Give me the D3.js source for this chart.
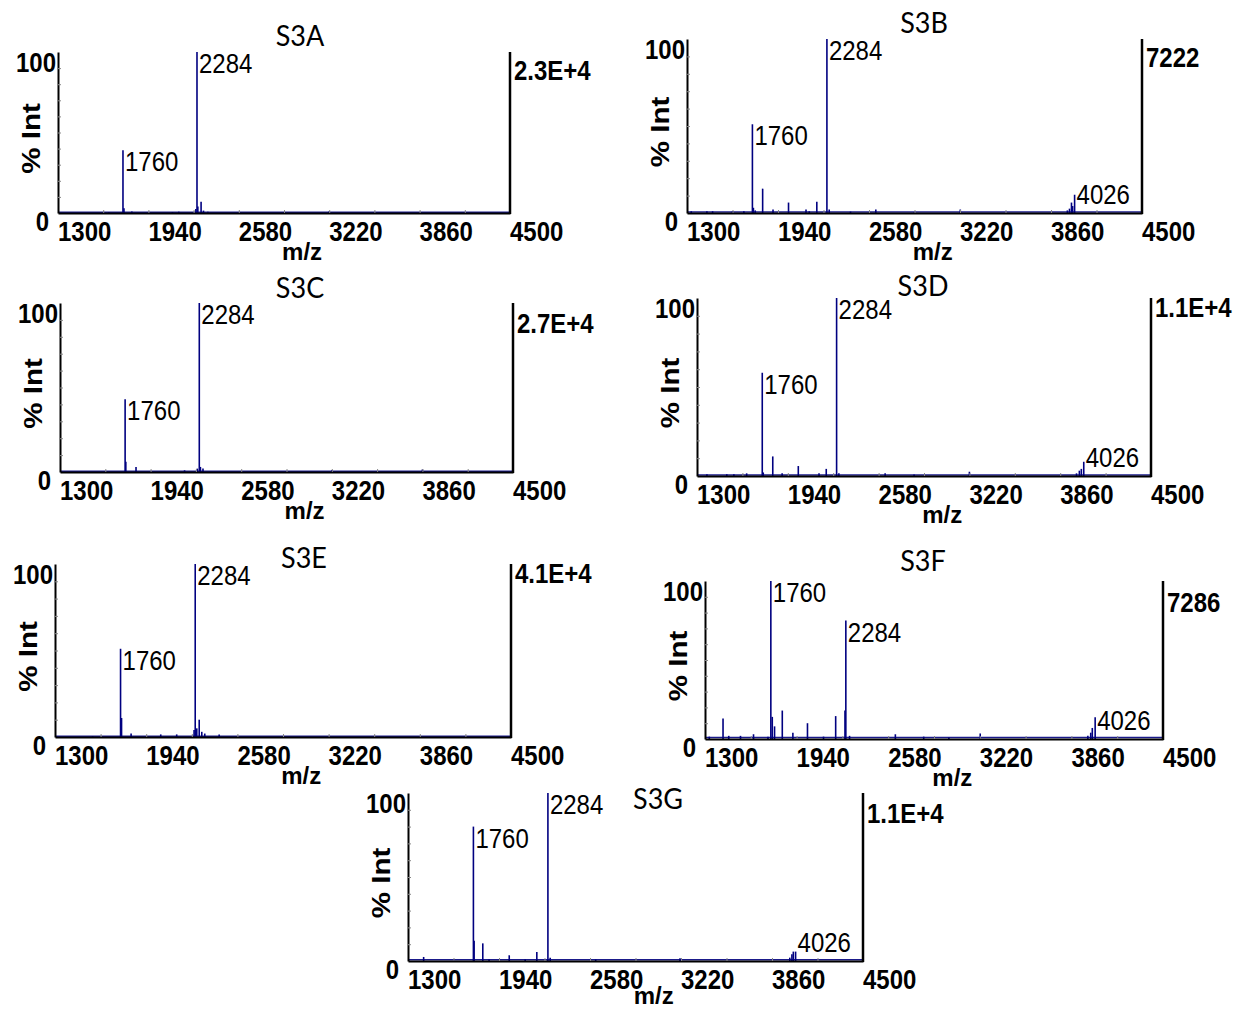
<!DOCTYPE html>
<html>
<head>
<meta charset="utf-8">
<script src="https://cdn.jsdelivr.net/npm/d3@7"></script>
<style>
  body { margin: 0; background: #fff; }
  svg text { font-family: "Liberation Sans", Arial, sans-serif; fill: #000; }
  .tick-label, .axis-label, .scale-label, .y-end { font-weight: bold; font-size: 24px; }
  .peak-label { font-size: 24px; }
  .title { font-family: Lato, "Open Sans", sans-serif; font-size: 27px; }
  .axis path, .axis line { stroke: #000; }
  .axis path { stroke-width: 2px; }
  .axis line { stroke: #888; stroke-width: 1px; }
  .stick { stroke: #000080; stroke-width: 1.6px; }
  .noise { stroke: #1a1a8a; stroke-width: 1.5px; }
  .right-axis { stroke: #000; stroke-width: 2.5px; }
</style>
</head>
<body>
<div class="chart-container"></div>
<script>
var width = 1233;
var height = 1011;
var stretch = 1.18; // the original lettering is taller than it is wide

var panelNames = ['S3A', 'S3B', 'S3C', 'S3D', 'S3E', 'S3F', 'S3G'];
var scaleLabels = ['2.3E+4', '7222', '2.7E+4', '1.1E+4', '4.1E+4', '7286', '1.1E+4'];
var xDomain = [1300, 4500];
var xTicks = [1300, 1940, 2580, 3220, 3860, 4500];
var yTicks = [0, 100];

// peaks: [m/z, % intensity]
var peaksA = [[1660, 0.5], [1760, 39], [1767, 3], [1823, 1], [2110, 0.6], [2155, 0.8], [2276, 2.5],
  [2284, 100], [2290, 4], [2313, 7], [2330, 1.5], [2361, 0.8], [3219, 1]];
var peaksB = [[1330, 1], [1440, 1], [1480, 1], [1620, 1], [1700, 1], [1760, 51], [1767, 3], [1780, 1.5],
  [1832, 14], [1905, 2], [2014, 6], [2137, 2], [2160, 1], [2213, 6.5], [2284, 100], [2300, 2],
  [2450, 0.8], [2628, 2], [2900, 0.6], [3222, 2], [3975, 1.5], [3990, 2.5], [4004, 6], [4012, 4], [4026, 10.5]];
var peaksC = [[1760, 43], [1765, 6], [1837, 3], [2180, 1], [2270, 2], [2284, 100], [2292, 3], [2310, 2],
  [3220, 1], [3860, 1.5]];
var peaksD = [[1370, 1], [1510, 1], [1560, 1], [1650, 1.5], [1760, 58], [1767, 2], [1834, 11], [1900, 1.5],
  [2014, 5.6], [2160, 1.5], [2211, 4], [2284, 100], [2300, 1.5], [2626, 1.5], [2830, 0.8], [3220, 2.4],
  [3975, 1.5], [3995, 3], [4009, 4], [4026, 8]];
var peaksE = [[1564, 0.5], [1760, 51], [1767, 11], [1834, 2], [2042, 1.5], [2154, 1.5], [2276, 4],
  [2284, 100], [2295, 5], [2312, 10], [2330, 3], [2351, 2], [2452, 1.5]];
var peaksF = [[1330, 1.5], [1426, 13], [1466, 2], [1548, 2], [1639, 3], [1740, 1.5], [1760, 100], [1770, 14],
  [1786, 8], [1840, 18], [1914, 4], [2016, 10], [2128, 1.5], [2213, 14.5], [2278, 18], [2284, 75], [2310, 2],
  [2630, 3], [2828, 1.5], [3004, 1], [3223, 3.5], [3975, 2], [3995, 4], [4006, 7], [4026, 13.7]];
var peaksG = [[1410, 2.4], [1624, 1], [1760, 80], [1765, 12], [1826, 10.5], [1870, 1], [2012, 3.4],
  [2124, 1], [2206, 5.4], [2284, 100], [2300, 2], [2620, 1], [3213, 1.6], [3985, 2], [4000, 4],
  [4010, 5.6], [4026, 5.6]];
var allPeaks = [peaksA, peaksB, peaksC, peaksD, peaksE, peaksF, peaksG];

var labelledPeaks = [[1760, 2284], [1760, 2284, 4026], [1760, 2284], [1760, 2284, 4026],
  [1760, 2284], [1760, 2284, 4026], [1760, 2284, 4026]];
var noiseLevels = [0.5, 0.6, 0.4, 0.6, 0.4, 0.9, 0.8];

// where each spectrum sits on the page
var layout = [
  {left: 58, right: 510, top: 52, base: 213, titleX: 300, titleY: 35, scaleDy: 18},
  {left: 687, right: 1142, top: 39, base: 213, titleX: 924, titleY: 22, scaleDy: 18},
  {left: 60, right: 513, top: 303, base: 472, titleX: 300, titleY: 287, scaleDy: 20},
  {left: 697, right: 1151, top: 298, base: 476, titleX: 923, titleY: 285, scaleDy: 9},
  {left: 55, right: 511, top: 564, base: 737, titleX: 304, titleY: 557, scaleDy: 9},
  {left: 705, right: 1163, top: 581, base: 739, titleX: 923, titleY: 560, scaleDy: 21},
  {left: 408, right: 863, top: 793, base: 961, titleX: 658, titleY: 798, scaleDy: 20}
];

var svg = d3.select('.chart-container').append('svg')
  .attr('width', width)
  .attr('height', height);

// put a text at (x, y) and stretch it vertically
function at(x, y) {
  return `translate(${x},${y}) scale(1,${stretch})`;
}

function drawPanel(i) {
  var box = layout[i];
  var peaks = allPeaks[i];
  var x = d3.scaleLinear().domain(xDomain).range([box.left, box.right]);
  var y = d3.scaleLinear().domain([0, 100]).range([box.base, box.top]);
  var g = svg.append('g').attr('class', 'panel');

  // noise floor + sticks
  g.append('line')
    .attr('class', 'noise')
    .attr('x1', x(xDomain[0])).attr('x2', x(xDomain[1]))
    .attr('y1', y(noiseLevels[i])).attr('y2', y(noiseLevels[i]));

  g.selectAll('.stick')
    .data(peaks)
    .enter().append('line')
    .attr('class', 'stick')
    .attr('x1', d => x(d[0])).attr('x2', d => x(d[0]))
    .attr('y1', y(0)).attr('y2', d => y(d[1]));

  // axes
  var xAxis = d3.axisBottom(x)
    .tickValues(d3.range(1300, 4501, 320))
    .tickSizeInner(-3).tickSizeOuter(0)
    .tickFormat('');
  g.append('g')
    .attr('class', 'axis')
    .attr('transform', `translate(0,${box.base})`)
    .call(xAxis);

  var yAxis = d3.axisRight(y)
    .tickValues(d3.range(10, 100, 10))
    .tickSizeInner(3).tickSizeOuter(0)
    .tickFormat('');
  g.append('g')
    .attr('class', 'axis')
    .attr('transform', `translate(${box.left},0)`)
    .call(yAxis);

  g.append('line')
    .attr('class', 'right-axis')
    .attr('x1', box.right).attr('x2', box.right)
    .attr('y1', box.top).attr('y2', box.base + 1);

  // tick labels sit to the right of their tick
  g.selectAll('.tick-label')
    .data(xTicks)
    .enter().append('text')
    .attr('class', 'tick-label')
    .attr('transform', d => at(x(d), box.base + 28))
    .text(d => d);

  g.append('text')
    .attr('class', 'y-end')
    .attr('text-anchor', 'end')
    .attr('transform', at(box.left - 9, y(0) + 18))
    .text(yTicks[0]);
  g.append('text')
    .attr('class', 'y-end')
    .attr('text-anchor', 'end')
    .attr('transform', at(box.left - 2, y(100) + 20))
    .text(yTicks[1]);

  g.append('text')
    .attr('class', 'axis-label')
    .attr('text-anchor', 'middle')
    .style('font-size', '25px')
    .attr('transform', `translate(${box.left - 18},${(box.top + box.base) / 2 + 6}) rotate(-90) scale(${stretch},1)`)
    .text('% Int');

  g.append('text')
    .attr('class', 'axis-label')
    .attr('text-anchor', 'middle')
    .attr('x', box.left + (box.right - box.left) * 0.54)
    .attr('y', Math.min(box.base + 47, height - 7))
    .text('m/z');

  g.append('text')
    .attr('class', 'scale-label')
    .attr('transform', at(box.right + 4, box.top + box.scaleDy + 10))
    .text(scaleLabels[i]);

  g.append('text')
    .attr('class', 'title')
    .attr('text-anchor', 'middle')
    .attr('transform', `translate(${box.titleX},${box.titleY + 11}) scale(1,1.1)`)
    .text(panelNames[i]);

  // peak labels
  var labelled = peaks.filter(d => labelledPeaks[i].indexOf(d[0]) >= 0);
  g.selectAll('.peak-label')
    .data(labelled)
    .enter().append('text')
    .attr('class', 'peak-label')
    .attr('transform', d => at(x(d[0]) + 2, Math.min(y(d[1]) + 21, box.base - 9)))
    .text(d => d[0]);
}

d3.range(panelNames.length).forEach(drawPanel);
</script>
</body>
</html>
